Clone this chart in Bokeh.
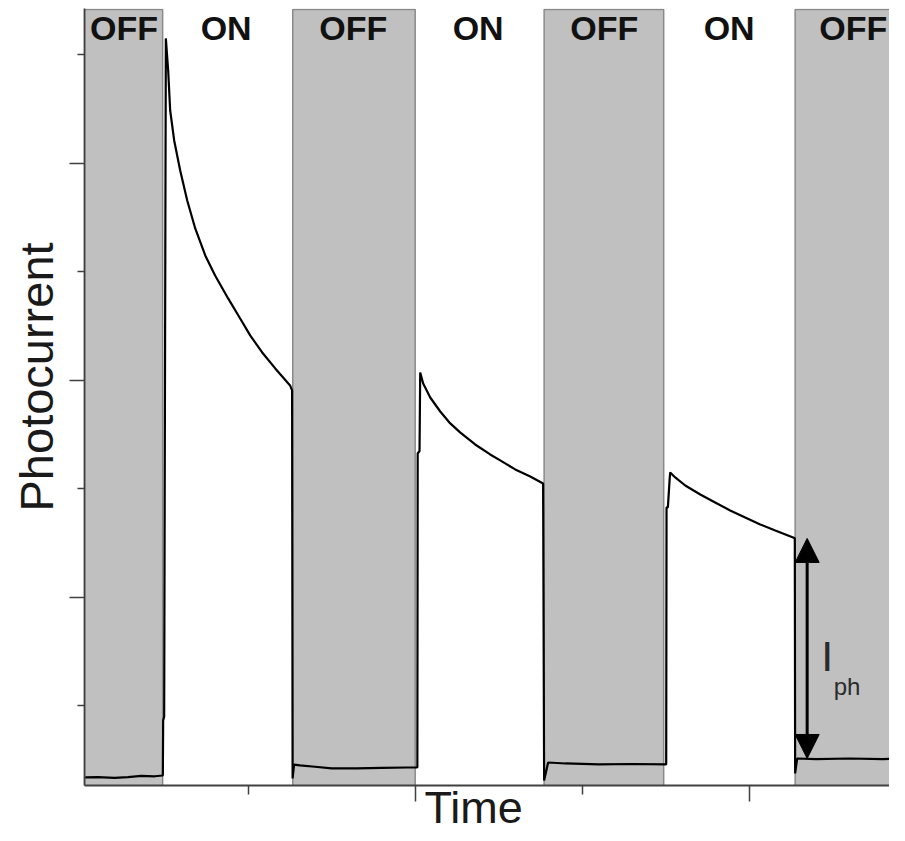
from bokeh.plotting import figure
from bokeh.models import FixedTicker, Label, Arrow, NormalHead, ColumnDataSource, Range1d, Title
from bokeh.core.properties import value
from bokeh.embed import file_html
from bokeh.resources import INLINE

# ---- data ----
# light-OFF windows (time units)
off_start = [2.0, 126.7, 277.2, 427.5]
off_end = [48.8, 200.0, 348.8, 500.0]

state_labels = ["OFF", "ON", "OFF", "ON", "OFF", "ON", "OFF"]
state_label_x = [25.7, 86.8, 162.9, 237.7, 313.2, 388.0, 462.3]
state_label_y = [7.244] * 7

time = [2.4, 10, 20, 28, 36, 44, 48.9,
        49.1, 49.7, 50.7,
        52.1, 53.3, 55.7, 59.3, 63.5, 68.3, 74.3, 80.2, 88.0, 95.2, 101.2, 108.4, 116.2, 125.1, 126.3,
        126.6, 127.5, 131, 140, 150, 165, 180, 195, 201.3,
        201.5, 202.6, 203.0,
        204.8, 209.0, 215.0, 221.0, 226.9, 235.9, 244.9, 250.9, 259.9, 268.9, 276.6,
        277.2, 279.6, 290, 310, 330, 350.3,
        350.5, 351.3, 352.4, 352.7,
        355.7, 361.7, 370.7, 379.6, 388.6, 397.6, 406.6, 415.6, 426.3, 427.3,
        427.5, 428.7, 440, 460, 480, 494]
current = [0.341, 0.345, 0.337, 0.345, 0.355, 0.352, 0.359,
           0.866, 0.900, 7.152,
           6.857, 6.488, 6.212, 5.935, 5.659, 5.401, 5.152, 4.968, 4.756, 4.571, 4.415, 4.258, 4.111, 3.954, 3.908,
           0.332, 0.460, 0.452, 0.440, 0.424, 0.424, 0.430, 0.433, 0.433,
           3.327, 3.350, 4.074,
           3.972, 3.843, 3.714, 3.604, 3.521, 3.410, 3.318, 3.263, 3.180, 3.115, 3.051,
           0.313, 0.479, 0.470, 0.461, 0.465, 0.461,
           2.830, 2.830, 3.100, 3.152,
           3.106, 3.032, 2.949, 2.876, 2.802, 2.737, 2.673, 2.618, 2.553, 2.545,
           0.378, 0.516, 0.510, 0.516, 0.510, 0.516]

x_major_ticks = [200, 400]
x_minor_ticks = [100, 300]
y_major_ticks = [2, 4, 6]
y_minor_ticks = [1, 3, 5, 7]

iph_x = 434.7
iph_low = 0.516
iph_high = 2.544

FONT = "Liberation Sans"

# ---- figure ----
p = figure(width=889, height=825, output_backend="svg", toolbar_location=None,
           x_range=Range1d(2.0, 484.0), y_range=Range1d(0.267, 7.428),
           min_border_left=84, min_border_bottom=40, min_border_top=8, min_border_right=0)
p.outline_line_color = None
p.xgrid.visible = False
p.ygrid.visible = False
p.background_fill_color = "white"

# shaded OFF windows
p.quad(left=off_start, right=off_end, bottom=[0.1] * 4, top=[7.418] * 4,
       fill_color="#c0c0c0", line_color="#8a8a8a", line_width=1.5)

# photocurrent trace
p.line(time, current, line_color="black", line_width=2.2)

# OFF / ON labels
src = ColumnDataSource(dict(x=state_label_x, y=state_label_y, t=state_labels))
p.text(x="x", y="y", text="t", source=src, text_font=value(FONT),
       text_font_style="bold", text_font_size="34px", text_align="center",
       text_baseline="alphabetic", text_color="#111111")

# I_ph double arrow
p.add_layout(Arrow(start=NormalHead(size=24, fill_color="black", line_color="black"),
                   end=NormalHead(size=24, fill_color="black", line_color="black"),
                   x_start=iph_x, y_start=iph_low, x_end=iph_x, y_end=iph_high,
                   line_color="black", line_width=3))
p.add_layout(Label(x=443.1, y=1.458, text="I", text_font=FONT, text_font_size="43px",
                   text_color="#2b2b2b", text_baseline="alphabetic", text_align="left"))
p.add_layout(Label(x=450.6, y=1.18, text="ph", text_font=FONT, text_font_size="24px",
                   text_color="#2b2b2b", text_baseline="alphabetic", text_align="left"))

# axes
for ax, maj, mnr, out_maj, out_min in (
        (p.xaxis, x_major_ticks, x_minor_ticks, 16, 9),
        (p.yaxis, y_major_ticks, y_minor_ticks, 15, 7)):
    ax.ticker = FixedTicker(ticks=maj, minor_ticks=mnr)
    ax.major_label_text_font_size = "0px"
    ax.major_label_text_alpha = 0
    ax.major_label_standoff = 0
    ax.axis_line_color = "#404040"
    ax.axis_line_width = 1.8
    ax.major_tick_line_color = "#404040"
    ax.minor_tick_line_color = "#404040"
    ax.major_tick_line_width = 1.5
    ax.minor_tick_line_width = 1.5
    ax.major_tick_in = 0
    ax.minor_tick_in = 0
    ax.major_tick_out = out_maj
    ax.minor_tick_out = out_min

# axis titles
p.add_layout(Title(text="Photocurrent", align="left", offset=274, vertical_align="bottom",
                   standoff=13, text_font=FONT, text_font_size="47px",
                   text_font_style="normal", text_color="#1a1a1a"), "left")
try:
    xt = Title(text="Time", align="left", offset=340, vertical_align="top", standoff=-40,
               text_font=FONT, text_font_size="45px", text_font_style="normal",
               text_color="#1a1a1a")
    p.add_layout(xt, "below")
except ValueError:
    p.xaxis.axis_label = "Time"
    p.xaxis.axis_label_standoff = -21
    p.xaxis.axis_label_text_font = FONT
    p.xaxis.axis_label_text_font_size = "45px"
    p.xaxis.axis_label_text_font_style = "normal"
    p.xaxis.axis_label_text_color = "#1a1a1a"

open("out.html", "w").write(file_html(p, INLINE))
